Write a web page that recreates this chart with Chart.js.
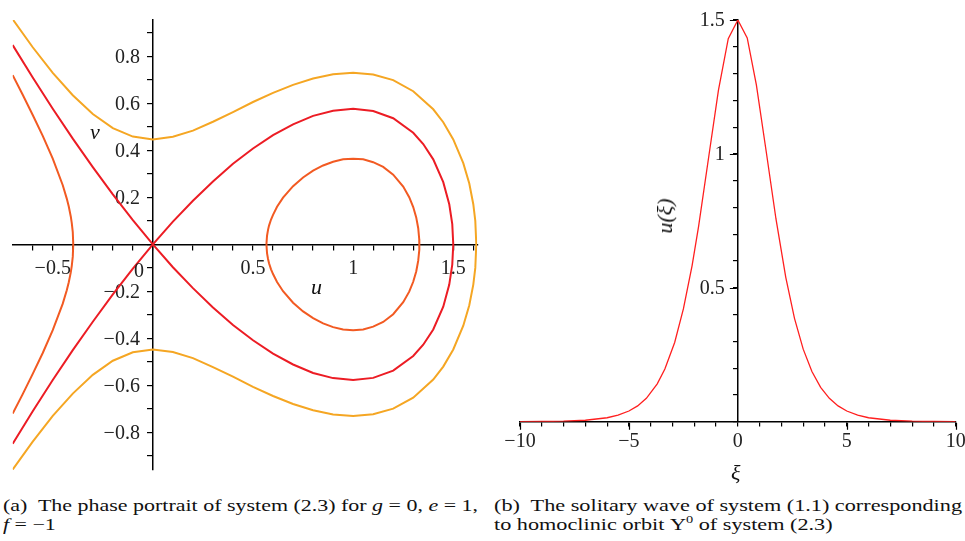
<!DOCTYPE html>
<html><head><meta charset="utf-8">
<script src="https://cdn.jsdelivr.net/npm/chart.js@4.4.1/dist/chart.umd.min.js"></script>
<style>
html,body{margin:0;padding:0;background:#fff;width:965px;height:541px;overflow:hidden;position:relative}
canvas{position:absolute;top:0}
#ca{left:0}
#cb{left:490px}
.lbl{position:absolute;font-family:"Liberation Serif",serif;font-style:italic;font-size:22px;line-height:22px;color:#111;white-space:nowrap}
.tk{position:absolute;font-family:"Liberation Serif",serif;font-size:20px;line-height:20px;color:#222}
.cap{position:absolute;font-family:"Liberation Serif",serif;font-size:17px;line-height:19px;color:#111;white-space:nowrap;transform-origin:0 0}
.cap span{display:inline-block}
</style></head>
<body>
<canvas id="ca" width="490" height="490"></canvas>
<canvas id="cb" width="480" height="490"></canvas>
<div class="lbl" style="left:90px;top:121px">v</div>
<div class="lbl" style="left:311px;top:276px">u</div>
<div class="tk" style="left:134px;top:260px">0</div>
<div class="lbl" style="left:731px;top:462px">ξ</div>
<div class="lbl" style="left:665px;top:216px;transform:translate(-50%,-50%) rotate(-90deg)">u(ξ)</div>
<div class="cap" id="capA" style="left:3px;top:496px"><span id="capA1">(a)&nbsp; The phase portrait of system (2.3) for <i>g</i> = 0, <i>e</i> = 1,</span><br><span><i>f</i> = −1</span></div>
<div class="cap" id="capB" style="left:494px;top:496px"><span id="capB1">(b)&nbsp; The solitary wave of system (1.1) corresponding</span><br><span>to homoclinic orbit Υ<sup style="font-size:11px;line-height:0">0</sup> of system (2.3)</span></div>
<script>
// ---------- Panel (a): phase portrait, g = 0, e = 1, f = -1 ----------
const homoclinicU = [-0.7,-0.6,-0.5,-0.4,-0.3,-0.2,-0.1,0,0.1,0.2,0.3,0.4,0.5,0.6,0.7,0.8,0.9,1.0,1.1,1.2,1.3,1.35,1.4,1.45,1.48,1.495,1.5,1.495,1.48,1.45,1.4,1.35,1.3,1.2,1.1,1.0,0.9,0.8,0.7,0.6,0.5,0.4,0.3,0.2,0.1,0,-0.1,-0.2,-0.3,-0.4,-0.5,-0.6,-0.7];
const homoclinicV = [0.848,0.710,0.577,0.450,0.329,0.213,0.103,0,-0.097,-0.186,-0.268,-0.343,-0.408,-0.465,-0.511,-0.547,-0.569,-0.577,-0.568,-0.537,-0.475,-0.427,-0.362,-0.265,-0.171,-0.086,0,0.086,0.171,0.265,0.362,0.427,0.475,0.537,0.568,0.577,0.569,0.547,0.511,0.465,0.408,0.343,0.268,0.186,0.097,0,-0.103,-0.213,-0.329,-0.450,-0.577,-0.710,-0.848];

const outerU = [-0.7,-0.6,-0.5,-0.4,-0.3,-0.2,-0.1,0,0.1,0.2,0.3,0.4,0.5,0.6,0.7,0.8,0.9,1.0,1.1,1.2,1.3,1.4,1.45,1.5,1.55,1.58,1.6,1.61,1.615,1.61,1.6,1.58,1.55,1.5,1.45,1.4,1.3,1.2,1.1,1.0,0.9,0.8,0.7,0.6,0.5,0.4,0.3,0.2,0.1,0,-0.1,-0.2,-0.3,-0.4,-0.5,-0.6,-0.7];
const outerV = [0.958,0.839,0.730,0.635,0.555,0.495,0.459,0.447,0.458,0.484,0.522,0.563,0.606,0.645,0.679,0.706,0.724,0.730,0.723,0.699,0.652,0.575,0.520,0.447,0.346,0.259,0.171,0.100,0,-0.100,-0.171,-0.259,-0.346,-0.447,-0.520,-0.575,-0.652,-0.699,-0.723,-0.730,-0.724,-0.706,-0.679,-0.645,-0.606,-0.563,-0.522,-0.484,-0.458,-0.447,-0.459,-0.495,-0.555,-0.635,-0.730,-0.839,-0.958];

const innerU = [0.567,0.57,0.575,0.58,0.59,0.6,0.62,0.65,0.7,0.75,0.8,0.85,0.9,0.95,1.0,1.05,1.1,1.15,1.2,1.25,1.28,1.3,1.315,1.325,1.33,1.331,1.33,1.325,1.315,1.3,1.28,1.25,1.2,1.15,1.1,1.05,1.0,0.95,0.9,0.85,0.8,0.75,0.7,0.65,0.62,0.6,0.59,0.58,0.575,0.57,0.567];
const innerV = [0,0.037,0.062,0.080,0.106,0.126,0.160,0.199,0.248,0.285,0.314,0.336,0.352,0.362,0.365,0.362,0.350,0.330,0.297,0.246,0.201,0.159,0.115,0.069,0.022,0,-0.022,-0.069,-0.115,-0.159,-0.201,-0.246,-0.297,-0.330,-0.350,-0.362,-0.365,-0.362,-0.352,-0.336,-0.314,-0.285,-0.248,-0.199,-0.160,-0.126,-0.106,-0.080,-0.062,-0.037,0];

const leftU = [-0.7,-0.65,-0.6,-0.55,-0.5,-0.45,-0.43,-0.42,-0.41,-0.405,-0.4,-0.3976,-0.4,-0.405,-0.41,-0.42,-0.43,-0.45,-0.5,-0.55,-0.6,-0.65,-0.7];
const leftV = [0.720,0.637,0.551,0.462,0.365,0.252,0.195,0.161,0.119,0.091,0.052,0,-0.052,-0.091,-0.119,-0.161,-0.195,-0.252,-0.365,-0.462,-0.551,-0.637,-0.720];

const phaseXLabels = [-0.5, 0.5, 1, 1.5];
const phaseYLabels = [-0.8, -0.6, -0.4, -0.2, 0.2, 0.4, 0.6, 0.8];

// ---------- Panel (b): solitary wave u(xi) ----------
const waveXi = [-10,-9,-8,-7,-6,-5.5,-5,-4.6,-4.2,-3.7,-3.35,-2.9,-2.5,-2.1,-1.8,-1.33,-0.89,-0.44,0,0.43,0.85,1.3,1.75,2.2,2.6,3,3.4,3.8,4.2,4.6,5,5.5,6,7,8,9,10];
const waveU  = [0.0003,0.0007,0.002,0.0055,0.0148,0.0243,0.0399,0.0591,0.0873,0.1413,0.1965,0.296,0.421,0.583,0.730,0.993,1.238,1.430,1.5,1.433,1.258,1.010,0.757,0.539,0.386,0.271,0.1875,0.1284,0.0873,0.0591,0.0399,0.0243,0.0148,0.0055,0.002,0.0007,0.0003];

const waveXLabels = [-10, -5, 0, 5, 10];
const waveYLabels = [0.5, 1, 1.5];

// ---------- helpers ----------
const pts = (xs, ys) => xs.map((x, i) => ({x: x, y: ys[i]}));
const fmt = v => String(parseFloat(v.toFixed(3))).replace('-', '\u2212');
const isIn = (list, value) => list.some(l => Math.abs(l - value) < 1e-6);
const labeler = list => (value) => isIn(list, value) ? fmt(value) : '';
const tickFont = {family: '"Liberation Serif", serif', size: 20};

function axis(min, max, step, labels, pos, pad, tl) {
  return {
    type: 'linear', min: min, max: max, position: pos,
    ticks: {stepSize: step, autoSkip: false, maxRotation: 0, minRotation: 0, includeBounds: false,
            maxTicksLimit: 1000, callback: labels ? labeler(labels) : () => '', font: tickFont, color: '#222', padding: pad},
    grid: {display: true, drawOnChartArea: false, drawTicks: true, tickLength: tl, color: '#000', lineWidth: 1.2},
    border: {display: true, color: '#000', width: 1.5}
  };
}

function line(data, color, width) {
  return {data: data, borderColor: color, borderWidth: width, showLine: true, pointRadius: 0,
          fill: false, tension: 0, clip: 0};
}

// draws the vertical-axis tick labels left of an axis that sits at x = 0,
// plus optional longer major tick marks
function axisLabels(yLabels, majorX, majorY, extra) {
  return {
    id: 'axisLabels',
    beforeDatasetsDraw(chart) {
      const ctx = chart.ctx, xs = chart.scales.x, ys = chart.scales.y;
      const x0 = xs.getPixelForValue(0), y0 = ys.getPixelForValue(0);
      ctx.save();
      ctx.font = '20px "Liberation Serif", serif';
      ctx.fillStyle = '#222';
      ctx.textAlign = 'right';
      ctx.textBaseline = 'middle';
      yLabels.forEach(v => ctx.fillText(fmt(v), x0 - 13, ys.getPixelForValue(v) + 1));
      if (extra) {
        ctx.strokeStyle = '#000';
        ctx.lineWidth = 1.2;
        ctx.beginPath();
        majorY.forEach(v => { const p = Math.round(ys.getPixelForValue(v)) + 0.5; ctx.moveTo(x0 - 1, p); ctx.lineTo(x0 - 1 - extra, p); });
        majorX.forEach(v => { const p = Math.round(xs.getPixelForValue(v)) + 0.5; ctx.moveTo(p, y0 + 1); ctx.lineTo(p, y0 + 1 + extra); });
        ctx.stroke();
      }
      ctx.restore();
    }
  };
}

new Chart(document.getElementById('ca'), {
  type: 'scatter',
  data: {datasets: [
    line(pts(outerU, outerV), '#F5A623', 2),
    line(pts(innerU, innerV), '#F25A22', 2),
    line(pts(leftU, leftV), '#F25A22', 2),
    line(pts(homoclinicU, homoclinicV), '#EC1C24', 2)
  ]},
  options: {
    responsive: false, animation: false,
    layout: {padding: {left: 12.7, right: 12.7, top: 19, bottom: 7.3}},
    plugins: {legend: {display: false}, tooltip: {enabled: false}},
    scales: {
      x: axis(-0.7, 1.62, 0.1, phaseXLabels, {y: 0}, 7, 5),
      y: axis(-0.96, 0.955, 0.1, null, {x: 0}, 8, 5)
    }
  },
  plugins: [axisLabels(phaseYLabels, [], [], 0)]
});

new Chart(document.getElementById('cb'), {
  type: 'scatter',
  data: {datasets: [line(pts(waveXi, waveU), '#FF1F1F', 1.3)]},
  options: {
    responsive: false, animation: false,
    layout: {padding: {left: 30, right: 14.3, top: 16.7, bottom: 68.3}},
    plugins: {legend: {display: false}, tooltip: {enabled: false}},
    scales: {
      x: axis(-10, 10, 1, waveXLabels, {y: 0}, 4, 4),
      y: axis(0, 1.5, 0.1, null, {x: 0}, 8, 4)
    }
  },
  plugins: [axisLabels(waveYLabels, [-10, -5, 5, 10], [0.5, 1, 1.5], 7)]
});

// fit caption widths to the reference line lengths
function fitCap(capId, lineId, target) {
  const w = document.getElementById(lineId).getBoundingClientRect().width;
  if (w > 0) document.getElementById(capId).style.transform = 'scaleX(' + (target / w) + ')';
}
fitCap('capA', 'capA1', 475);
fitCap('capB', 'capB1', 468);
</script>
</body></html>
